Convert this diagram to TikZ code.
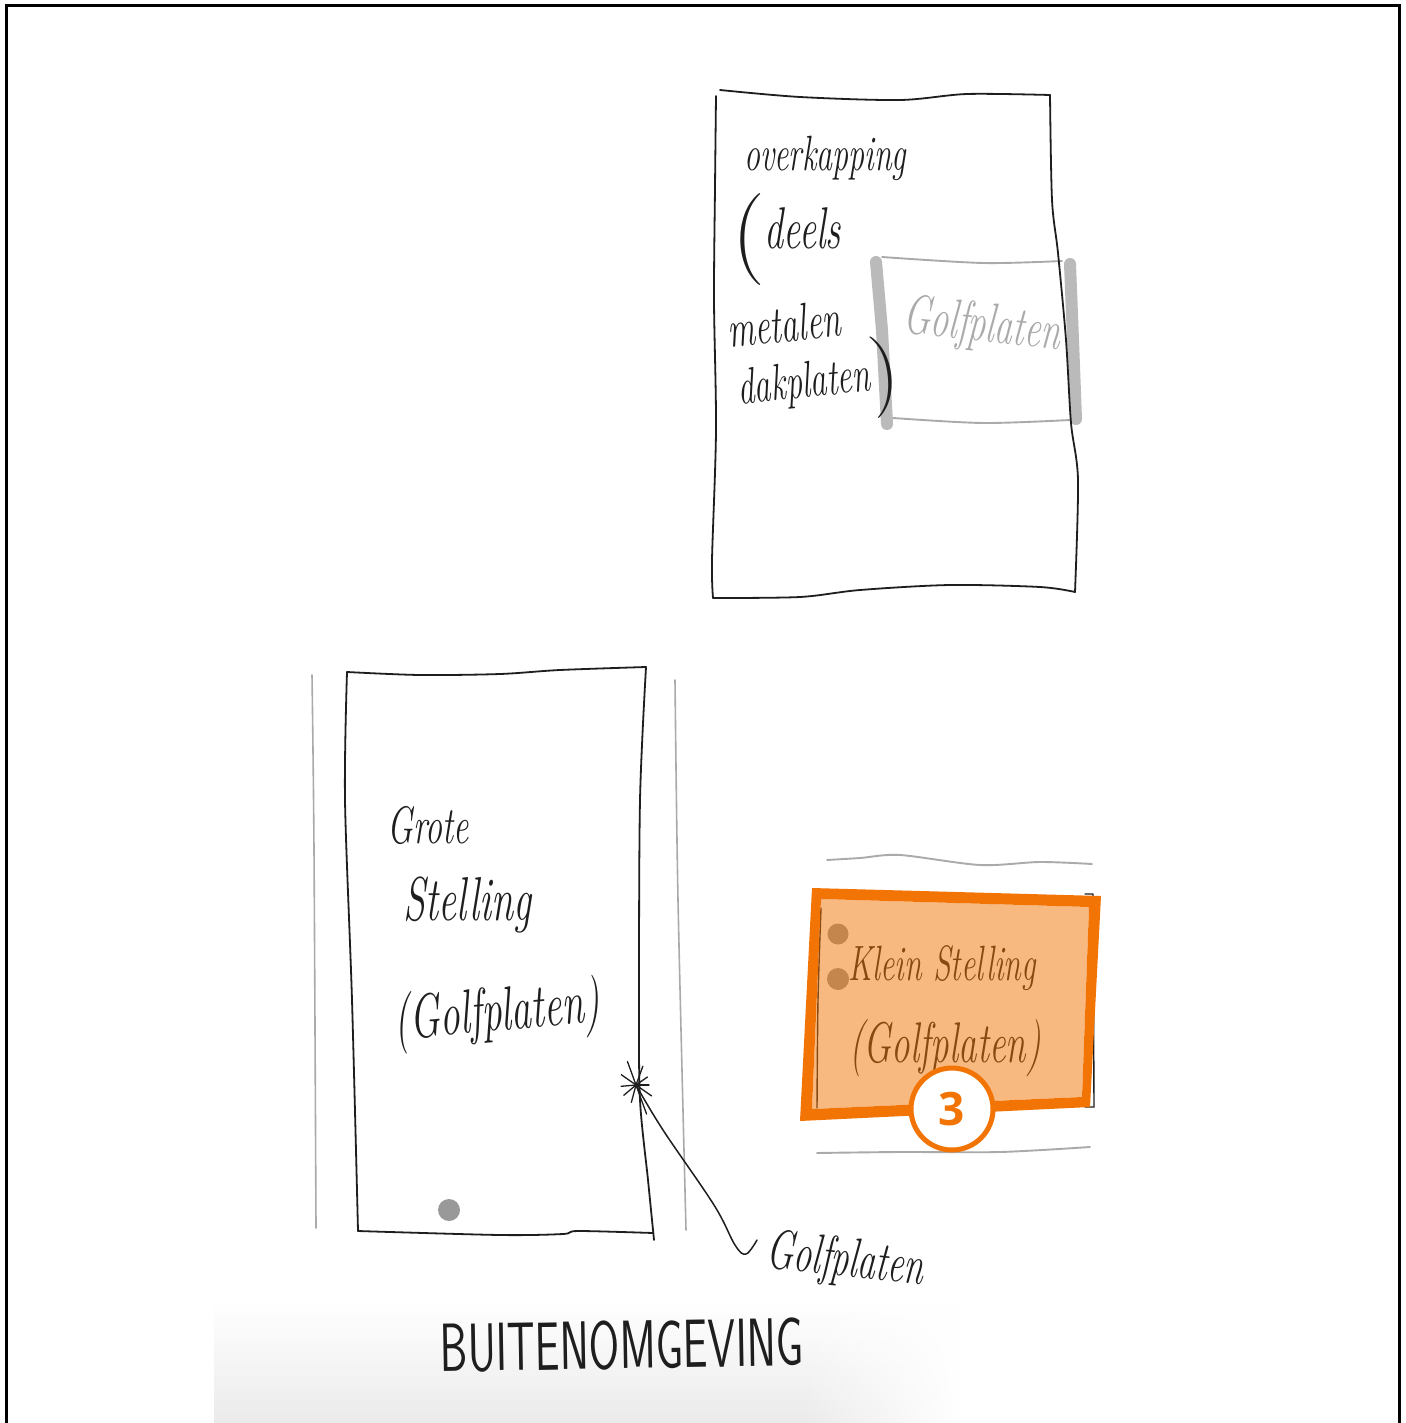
\documentclass[tikz,border=0pt]{standalone}
\usepackage{fontspec}
\usepackage{graphicx}
\usetikzlibrary{fadings}
\newfontfamily\badgefont{Open Sans}
\definecolor{orangeA}{RGB}{242,116,5}
\definecolor{sketchgray}{RGB}{170,170,170}
\definecolor{barcol}{RGB}{186,186,186}
\definecolor{inkcol}{RGB}{30,30,30}
\newcommand{\fs}[1]{\fontsize{#1}{#1}\selectfont}
\newcommand{\tallt}[1]{\scalebox{1}[1.55]{#1}}
\tikzset{
  ink/.style={draw=inkcol,line width=1.8pt,line cap=round,line join=round},
  greyline/.style={draw=sketchgray,line width=1.9pt,line cap=round,line join=round},
  bar/.style={draw=barcol,line width=12pt,line cap=round},
  wob/.style={smooth,tension=0.5},
  hand/.style={inner sep=0pt,text=inkcol,font=\itshape},
  spot/.style={fill=black!40,draw=none}
}
\begin{document}
\begin{tikzpicture}[x=1pt,y=-1pt]
\useasboundingbox (0,0) rectangle (1405,1423);
\fill[white] (0,0) rectangle (1405,1423);
% photo shadow at bottom
\shade[top color=white,bottom color=black!8] (214,1300) rectangle (800,1423);
\shade[top color=white,bottom color=black!8,path fading=east,fit fading=true] (800,1300) rectangle (960,1423);
% frame
\draw[black,line width=3pt] (6.5,1423) -- (6.5,5.5) -- (1399,5.5) -- (1399,1423);

% upper sketch
\draw[bar] (876,262) -- (882,330) -- (887,424);
\draw[bar] (1070,264) -- (1073,340) -- (1076,419);
\draw[greyline] plot[wob] coordinates {(882,257) (983,263) (1062,261)};
\draw[greyline] plot[wob] coordinates {(893,418) (983,423) (1070,420)};
\draw[ink] plot[wob] coordinates {(720,90) (800,97) (900,100) (967,94) (1050,95)};
\draw[ink] plot[wob] coordinates {(1050,95) (1052,200) (1058,253) (1066,340) (1071,423) (1078,480) (1075,592)};
\draw[ink] plot[wob] coordinates {(1075,592) (1040,587) (950,585) (860,590) (800,597) (713,598)};
\draw[ink] plot[wob] coordinates {(713,598) (712,560) (716,430) (714,300) (715,187) (716,96)};
\node[hand,font=\itshape\fs{32}] (t1) at (825,158) {\tallt{overkapping}};
\node[hand,font=\itshape\fs{38},anchor=west] (t2) at (732,240) {\raisebox{-14pt}{\fs{92}\normalfont(}\tallt{deels}};
\node[hand,font=\itshape\fs{34},rotate=6] (t3) at (784,324) {\tallt{metalen}};
\node[hand,font=\itshape\fs{33},rotate=6,anchor=west] (t4) at (738,392) {\tallt{dakplaten}\raisebox{-8pt}{\fs{82}\normalfont)}};
\node[hand,font=\itshape\fs{36},rotate=-6,text=sketchgray] (t5) at (982,327) {\tallt{Golfplaten}};

% lower left sketch
\draw[greyline,line width=1.6pt] plot[wob] coordinates {(312,675) (314,850) (316,1228)};
\draw[greyline,line width=1.6pt] plot[wob] coordinates {(675,680) (678,900) (686,1230)};
\draw[ink] plot[wob] coordinates {(347,672) (420,675) (500,674) (560,670) (646,667)};
\draw[ink] plot[wob] coordinates {(646,667) (640,800) (639,1000) (640,1100) (648,1180) (654,1240)};
\draw[ink] plot[wob] coordinates {(347,672) (345,800) (352,1000) (358,1231)};
\draw[ink] plot[wob] coordinates {(358,1231) (500,1235) (563,1234) (578,1231) (653,1233)};
\fill[spot] (449,1210) ellipse (11 and 11);
\node[hand,font=\itshape\fs{34}] (t6) at (428,825) {\tallt{Grote}};
\node[hand,font=\itshape\fs{40}] (t7) at (467,905) {\tallt{Stelling}};
\node[hand,font=\itshape\fs{40},rotate=5] (t8) at (497,1015) {\tallt{(Golfplaten)}};
% scribble star
\coordinate (star) at (636,1085);
\foreach \a/\r in {0/13,35/19,70/31,105/18,140/16,175/15,215/18,250/25,290/20,325/14}
  \draw[ink,line width=1.3pt] (star) -- ++(\a:\r);
\node[hand,font=\itshape\fs{36},rotate=-6] (t9) at (845,1262) {\tallt{Golfplaten}};
\draw[ink,line width=1.5pt] plot[smooth,tension=0.6] coordinates {(star) (663,1130) (714,1205) (735,1245) (746,1254) (757,1240)};
\node[hand,font=\sffamily\fs{44},rotate=1] (t10) at (622,1345) {\tallt{BUITENOMGEVING}};

% lower right sketch
\draw[greyline] plot[wob] coordinates {(827,860) (860,858) (900,855) (980,865) (1040,862) (1092,864)};
\draw[greyline] plot[wob] coordinates {(817,1153) (900,1152) (1000,1152) (1090,1147)};
\draw[ink,line width=1.4pt] (1085,894) -- (1093,894) -- (1094,1107) -- (1085,1107);
\draw[ink,line width=1.4pt] plot[wob] coordinates {(821,908) (818,1000) (817,1108)};
\fill[spot] (838,934) circle (10.5);
\fill[spot] (838,979) circle (11);
\node[hand,font=\itshape\fs{32}] (t11) at (942,968) {\tallt{Klein Stelling}};
\node[hand,font=\itshape\fs{37}] (t12) at (945,1048) {\tallt{(Golfplaten)}};
% highlight
\fill[orangeA,opacity=.5] (821,899) -- (1089,907) -- (1082,1097) -- (812,1109) -- cycle;
\fill[orangeA,even odd rule] (812,888) -- (1101,896) -- (1090,1107) -- (800,1121) -- cycle
  (821,899) -- (1089,907) -- (1082,1097) -- (812,1109) -- cycle;
\node[circle,draw=orangeA,line width=5pt,fill=white,minimum size=82pt,inner sep=0pt,text=orangeA,font=\badgefont\bfseries\fs{46}] (badge) at (952,1109) {3};
\end{tikzpicture}
\end{document}
